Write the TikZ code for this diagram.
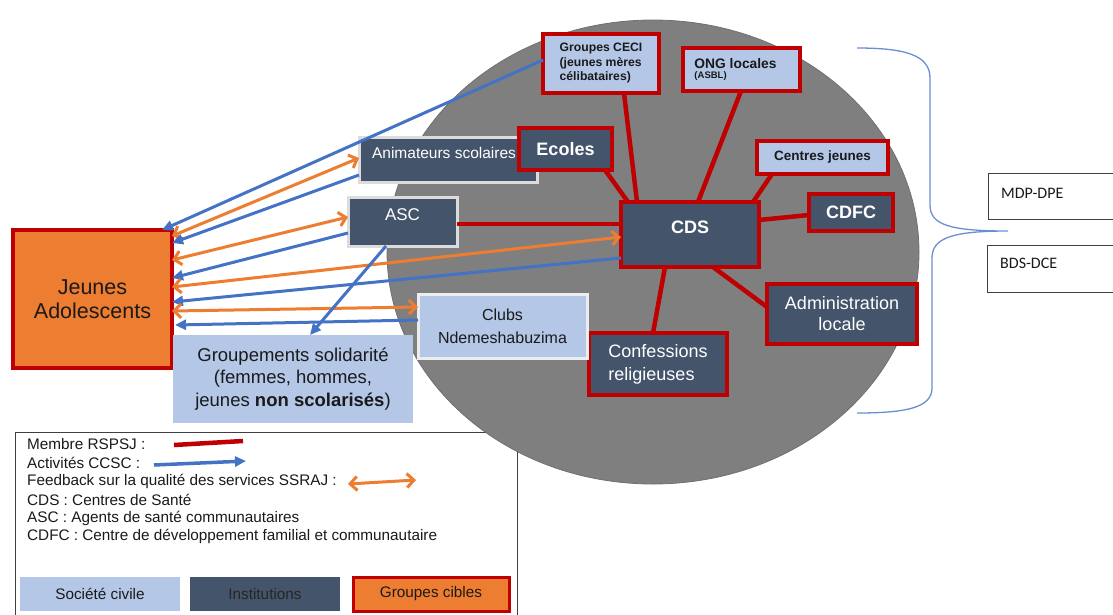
\documentclass[tikz,border=0pt]{standalone}
\usepackage{fontspec}
\setmainfont{Liberation Sans}
\newfontfamily\calibrifont{Carlito}
\usetikzlibrary{arrows.meta}
\definecolor{slate}{HTML}{44546A}
\definecolor{lblue}{HTML}{B4C7E7}
\definecolor{dred}{HTML}{C00000}
\definecolor{orng}{HTML}{ED7D31}
\definecolor{ablue}{HTML}{4472C4}
\definecolor{ellgray}{HTML}{7F7F7F}
\definecolor{elledge}{HTML}{6E7078}
\definecolor{bordgray}{HTML}{DCDCDC}
\definecolor{txtdark}{HTML}{1A1A1A}
\definecolor{bracecol}{HTML}{6A8FD0}
\definecolor{legline}{HTML}{404040}
\newcommand{\myfs}[2]{\fontsize{#1}{#2}\selectfont}
\begin{document}
\begin{tikzpicture}[x=1pt,y=-1pt,
  box/.style={rectangle, inner sep=0pt, outer sep=0pt},
  inst/.style={box, fill=slate, text=white},
  civ/.style={box, fill=lblue, text=txtdark},
  redb/.style={draw=dred, line width=3.5pt},
  greyb/.style={draw=bordgray, line width=3pt},
  rline/.style={draw=dred, line width=4.5pt},
  barr/.style={draw=ablue, line width=3pt, -{Triangle[length=11pt,width=10pt]}},
  oarr/.style={draw=orng, line width=3pt, {Straight Barb[length=7pt,width=14pt]}-{Straight Barb[length=7pt,width=14pt]}},
  wlab/.style={text=white},
  legtext/.style={anchor=west, inner sep=0pt, font=\myfs{15.3}{18}, text=txtdark},
]
\useasboundingbox (0,0) rectangle (1113,614);

% legend frame (behind the ellipse)
\draw[draw=legline, line width=1pt, fill=white] (15,432) rectangle (517,625);

% big ellipse
\fill[ellgray, draw=elledge, line width=0.8pt] (653,252) ellipse [x radius=266pt, y radius=232pt];

% brace
\draw[bracecol, line width=1.3pt] (857,48) .. controls (905,48) and (930,55) .. (930,78) -- (930,205)
  .. controls (930,225) and (950,231) .. (1008,231)
  .. controls (952,231) and (932,238) .. (932,258) -- (932,388)
  .. controls (932,408) and (905,413) .. (857,413);

% right boxes
\node[box, draw=legline, line width=1pt, fill=white, minimum width=132pt, minimum height=46pt] (mdp) at (1054,196) {};
\node[anchor=west, inner sep=0pt, font=\calibrifont\myfs{16}{18}, text=txtdark] (mdpT) at (1001,193) {MDP-DPE};
\node[box, draw=legline, line width=1pt, fill=white, minimum width=133pt, minimum height=47pt] (bds) at (1053.5,268.5) {};
\node[anchor=west, inner sep=0pt, font=\calibrifont\myfs{16}{18}, text=txtdark] (bdsT) at (1000,263) {BDS-DCE};

% boxes
\node[box, fill=orng, draw=dred, line width=4pt, minimum width=159pt, minimum height=138pt,
      align=center, font=\myfs{21.5}{24.5}, text=txtdark] (jeunes) at (92.5,299) {Jeunes\\Adolescents};

\node[inst, greyb, minimum width=178pt, minimum height=45pt,
      label={[wlab, font=\myfs{15.5}{18}, yshift=6.5pt, xshift=-4pt]center:Animateurs scolaires}] (anim) at (448,159.5) {};
\node[inst, redb, minimum width=93pt, minimum height=42pt, font=\bfseries\myfs{18}{20}] (ecoles) at (565.5,149) {Ecoles};

\node[civ, redb, minimum width=116pt, minimum height=59pt, align=left, font=\bfseries\myfs{12.2}{14.5}] (ceci) at (601,63.5)
  {Groupes CECI\\(jeunes mères\\célibataires)};
\node[civ, redb, minimum width=117pt, minimum height=43pt, align=left] (ong) at (741.5,69.5)
  {{\bfseries\myfs{13.8}{16}ONG locales\hspace*{12pt}}\\[-2pt]{\bfseries\myfs{9.5}{11}(ASBL)}};
\node[civ, redb, minimum width=131pt, minimum height=33pt, font=\bfseries\myfs{13.5}{16}] (centres) at (822.5,157.5) {Centres jeunes};
\node[inst, redb, minimum width=84pt, minimum height=37pt, font=\bfseries\myfs{18}{20}] (cdfc) at (851,212.5) {CDFC};
\node[inst, redb, minimum width=138pt, minimum height=65pt,
      label={[wlab, font=\bfseries\myfs{18}{20}, yshift=7.5pt]center:CDS}] (cds) at (690,234.5) {};
\node[inst, greyb, minimum width=109pt, minimum height=49pt,
      label={[wlab, font=\myfs{17}{20}, yshift=6.5pt]center:ASC}] (asc) at (402.5,221.5) {};
\node[inst, redb, minimum width=150pt, minimum height=60pt, align=center, font=\myfs{18}{21}] (admin) at (842,314)
  {Administration\\locale};
\node[inst, redb, minimum width=138pt, minimum height=62pt, align=left, font=\myfs{18}{23}] (conf) at (658,364)
  {Confessions\\religieuses};
\node[civ, greyb, draw=white!93!black, minimum width=169pt, minimum height=64pt, align=center, font=\myfs{16}{20}] (clubs) at (502.5,326)
  {\raisebox{3pt}{Clubs}\\Ndemeshabuzima};
\node[civ, minimum width=240pt, minimum height=88pt, align=center, font=\myfs{18.5}{22.5}] (grp) at (293,379)
  {Groupements solidarité\\(femmes, hommes,\\jeunes \textbf{non scolarisés})};

% RSPSJ membership lines
\draw[rline] (asc.east |- 0,224) -- (cds.west |- 0,224);
\draw[rline] (ecoles.south east -| 605,0) -- (cds.north west -| 628,0);
\draw[rline] (ceci.south -| 624,0) -- (cds.north -| 637,0);
\draw[rline] (ong.south -| 741,0) -- (cds.north -| 698,0);
\draw[rline] (centres.south -| 772,0) -- (cds.north -| 753,0);
\draw[rline] (cdfc.west |- 0,215) -- (cds.east |- 0,220);
\draw[rline] (cds.south -| 713,0) -- (admin.west |- 0,307);
\draw[rline] (cds.south -| 665,0) -- (conf.north -| 653,0);

% CCSC activities and feedback
\draw[barr] (ceci.west |- 0,60) -- ([xshift=-10pt]jeunes.north east);
\draw[oarr] (anim.west |- 0,158) -- (jeunes.east |- 0,236);
\draw[barr] (anim.west |- 0,175) -- (jeunes.east |- 0,243);
\draw[oarr] (asc.west |- 0,217) -- (jeunes.east |- 0,260);
\draw[barr] (asc.west |- 0,233) -- (jeunes.east |- 0,278);
\draw[oarr] (cds.west |- 0,237) -- (jeunes.east |- 0,287);
\draw[barr] (cds.west |- 0,258) -- (jeunes.east |- 0,302);
\draw[oarr] (clubs.west |- 0,307) -- (jeunes.east |- 0,311);
\draw[barr] (clubs.west |- 0,320) -- ([xshift=3pt]jeunes.east |- 0,325);
\draw[barr] (asc.south -| 386,0) -- (grp.north -| 310,0);

% legend content
\node[legtext] (l1) at (27,444) {Membre RSPSJ :};
\node[legtext] (l2) at (27,462.5) {Activités CCSC :};
\node[legtext] (l3) at (27,481) {Feedback sur la qualité des services SSRAJ :};
\node[legtext] (l4) at (27,499.5) {CDS : Centres de Santé};
\node[legtext] (l5) at (27,518) {ASC : Agents de santé communautaires};
\node[legtext] (l6) at (27,536.5) {CDFC : Centre de développement familial et communautaire};
\coordinate (r1) at (174,445); \coordinate (r2) at (243,441);
\coordinate (b1) at (154,465); \coordinate (b2) at (246,461);
\coordinate (o1) at (348,484); \coordinate (o2) at (416,480);
\draw[rline] (r1) -- (r2);
\draw[barr, line width=3.5pt] (b1) -- (b2);
\draw[oarr] (o1) -- (o2);

\node[civ, minimum width=160pt, minimum height=34pt, font=\myfs{15.3}{18}] (sw1) at (100,594) {Société civile};
\node[box, fill=slate, text=black!85, minimum width=150pt, minimum height=34pt, font=\myfs{15.3}{18}] (sw2) at (265,594) {Institutions};
\node[box, fill=orng, draw=dred, line width=3pt, text=txtdark, minimum width=156pt, minimum height=34pt, font=\myfs{15.3}{18}] (sw3) at (431,594) {Groupes cibles};
\end{tikzpicture}
\end{document}
